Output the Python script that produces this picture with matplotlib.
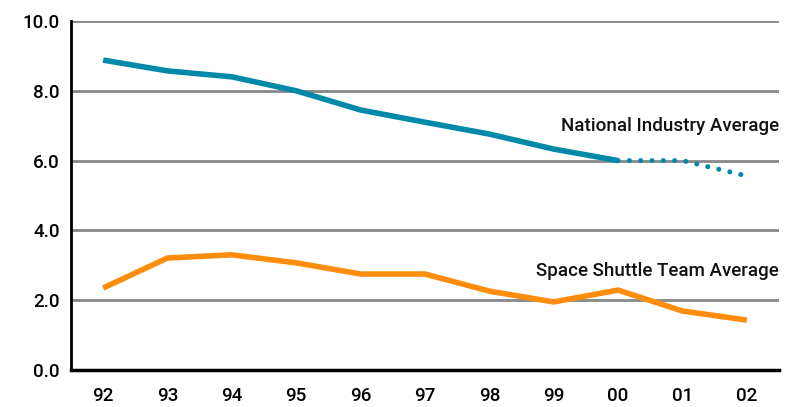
import matplotlib
matplotlib.use("Agg")
import matplotlib.pyplot as plt

years = ["92", "93", "94", "95", "96", "97", "98", "99", "00", "01", "02"]
national_actual = [8.88, 8.57, 8.40, 8.00, 7.45, 7.10, 6.76, 6.33, 6.00]
national_projected = [6.00, 6.00, 5.56]
shuttle = [2.35, 3.21, 3.30, 3.07, 2.75, 2.75, 2.26, 1.95, 2.29, 1.69, 1.43]
yticks = [0.0, 2.0, 4.0, 6.0, 8.0, 10.0]

blue = "#0089A8"
orange = "#FF8C0A"

plt.rcParams["font.family"] = ["Roboto", "DejaVu Sans"]

fig = plt.figure(figsize=(7.87, 4.07), dpi=100)
ax = fig.add_axes([71 / 787, 37 / 407, (779 - 71) / 787, (370 - 21) / 407])

x = list(range(len(years)))
for t in yticks[1:]:
    ax.axhline(t, color="#888888", lw=2, zorder=1)

ax.plot(x[:len(national_actual)], national_actual, color=blue, lw=4,
        solid_capstyle="butt", zorder=3)
proj_x = x[len(national_actual) - 1:]
ax.plot(proj_x, national_projected, color=blue, lw=3.6, linestyle=(0, (0.01, 2.25)),
        dash_capstyle="round", zorder=3)
ax.plot(x, shuttle, color=orange, lw=4, solid_capstyle="butt", zorder=3)

ax.text(10.5, 7.0, "National Industry Average", ha="right", va="center",
        fontsize=13.5, fontweight="medium", color="#111111")
ax.text(10.5, 2.84, "Space Shuttle Team Average", ha="right", va="center",
        fontsize=13.5, fontweight="medium", color="#111111")

ax.set_xlim(-0.5, 10.5)
ax.set_ylim(0, 10)
ax.set_xticks(x)
ax.set_xticklabels(years)
ax.set_yticks(yticks)
ax.set_yticklabels([f"{t:.1f}" for t in yticks])
ax.tick_params(axis="both", length=0, labelsize=13.5)
ax.tick_params(axis="x", pad=12)
ax.tick_params(axis="y", pad=8)
for lab in ax.get_xticklabels() + ax.get_yticklabels():
    lab.set_fontweight("medium")

ax.spines["top"].set_visible(False)
ax.spines["right"].set_visible(False)
ax.spines["left"].set_linewidth(2)
ax.spines["bottom"].set_linewidth(2.5)
ax.spines["left"].set_zorder(4)
ax.spines["bottom"].set_zorder(4)

fig.savefig("out.png", dpi=100)
